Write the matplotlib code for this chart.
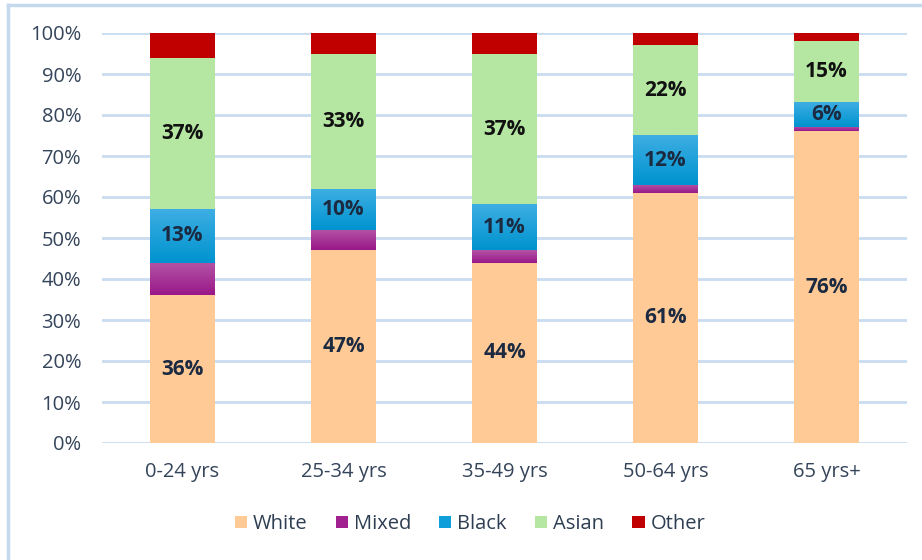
import matplotlib
matplotlib.use("Agg")
import matplotlib.pyplot as plt
from matplotlib.lines import Line2D
from matplotlib.colors import LinearSegmentedColormap
import numpy as np

plt.rcParams['font.family'] = ['Open Sans', 'DejaVu Sans']

age_groups = ['0-24 yrs', '25-34 yrs', '35-49 yrs', '50-64 yrs', '65 yrs+']
groups = ['White', 'Mixed', 'Black', 'Asian', 'Other']
white = [36, 47, 44, 61, 76]
mixed = [8, 5, 3, 2, 1]
black = [13, 10, 11, 12, 6]
asian = [37, 33, 37, 22, 15]
other = [6, 5, 5, 3, 2]

colours = ['#FFCA96', '#A0218F', '#0E9FDA', '#B5E6A2', '#C00000']
# top/bottom shades for the two segments that have a gradient fill
gradients = {'Mixed': ('#B354A5', '#9A1889'), 'Black': ('#3DAEE3', '#0093CF')}
labelled = {'White': '#1B2A41', 'Black': '#1B2A41', 'Asian': '#111111'}

fig = plt.figure(figsize=(9.22, 5.6), dpi=100)
ax = fig.add_axes([102/922, 1-443/560, 805/922, 410/560])

x = np.arange(len(age_groups))
width = 0.4
bottom = np.zeros(len(age_groups))
for name, vals, col in zip(groups, [white, mixed, black, asian, other], colours):
    vals = np.array(vals) / 100
    bars = ax.bar(x, vals, width=width, bottom=bottom, color=col, zorder=3, label=name)
    if name in gradients:
        cmap = LinearSegmentedColormap.from_list(name, [gradients[name][1], gradients[name][0]])
        for xi, b, v in zip(x, bottom, vals):
            ax.imshow(np.linspace(0, 1, 50).reshape(-1, 1), cmap=cmap, origin='lower',
                      extent=[xi - width/2, xi + width/2, b, b + v], aspect='auto', zorder=3.5)
    if name in labelled:
        for xi, b, v in zip(x, bottom, vals):
            ax.text(xi, b + v/2, '{:.0f}%'.format(v*100), ha='center', va='center',
                    fontsize=15, fontweight='bold', color=labelled[name], zorder=4)
    bottom += vals

ax.set_ylim(0, 1)
ax.set_xlim(-0.5, len(age_groups) - 0.5)
ax.set_yticks(np.arange(0, 1.01, 0.1))
ax.set_yticklabels(['{}%'.format(int(round(t*100))) for t in np.arange(0, 1.01, 0.1)])
ax.set_xticks(x)
ax.set_xticklabels(age_groups)
ax.tick_params(axis='both', length=0, labelsize=14.5, colors='#34445A')
ax.tick_params(axis='y', pad=15)
ax.tick_params(axis='x', pad=14)
ax.grid(axis='y', color='#C9DCF0', linewidth=2, zorder=0)
for s in ax.spines.values():
    s.set_visible(False)

leg = fig.legend(loc='center', bbox_to_anchor=(470/922, 1-524/560), ncol=5, frameon=False,
                 fontsize=14.5, handlelength=0.6, handleheight=0.6, handletextpad=0.3,
                 columnspacing=1.4, labelcolor='#2E3E52')

# light blue frame round the chart
fig.add_artist(Line2D([8/922, 1], [1-5/560, 1-5/560], color='#C5D9EE', lw=2.5))
fig.add_artist(Line2D([8/922, 8/922], [0, 1-5/560], color='#C5D9EE', lw=2.5))

fig.savefig('out.png', dpi=100)
